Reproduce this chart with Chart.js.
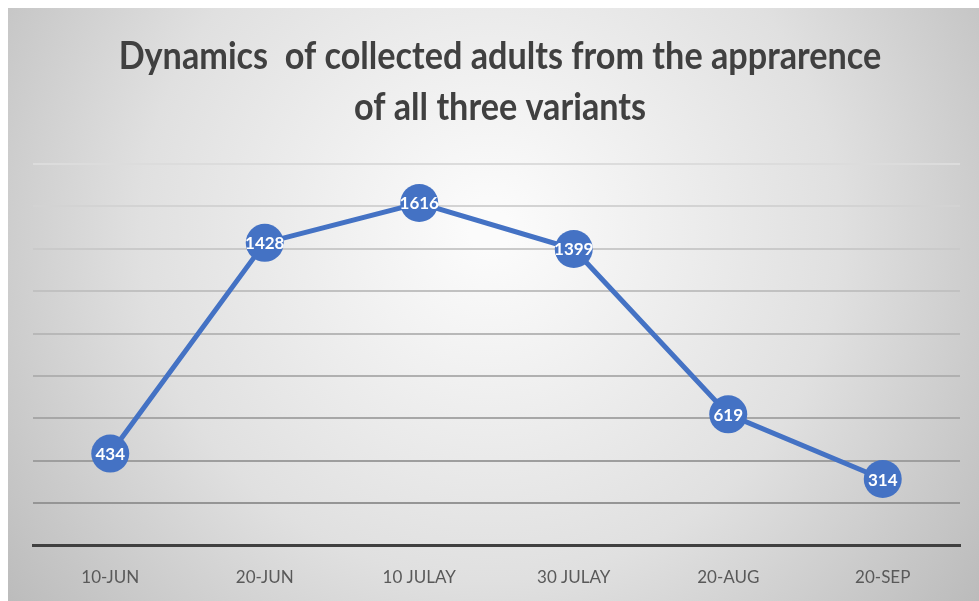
<!DOCTYPE html>
<html>
<head>
<style>
    body { margin: 0; background: white; }
    #wrap { position: relative; width: 979px; height: 601px; }
</style>
<script src="https://cdn.jsdelivr.net/npm/chart.js@4"></script>
</head>
<body>
<div id="wrap"><canvas id="chart"></canvas></div>
<script>
    var dates = ["10-JUN", "20-JUN", "10 JULAY", "30 JULAY", "20-AUG", "20-SEP"];
    var adults = [434, 1428, 1616, 1399, 619, 314];
    var titleLines = ["Dynamics  of collected adults from the apprarence", "of all three variants"];

    var blue = '#4472C4';

    // grey radial backdrop like the office chart area
    var backdrop = {
        id: 'backdrop',
        beforeDraw: function(chart) {
            var c = chart.ctx;
            c.save();
            c.fillStyle = '#ffffff';
            c.fillRect(0, 0, chart.width, chart.height);
            var g = c.createRadialGradient(490, 230, 20, 490, 230, 620);
            g.addColorStop(0, '#fbfbfb');
            g.addColorStop(0.55, '#e0e0e0');
            g.addColorStop(1, '#bababa');
            c.fillStyle = g;
            c.fillRect(8, 8, chart.width - 8, chart.height - 8);
            c.restore();
        }
    };

    // title drawn a bit condensed (calibri look)
    var condTitle = {
        id: 'condTitle',
        afterDraw: function(chart) {
            var c = chart.ctx;
            c.save();
            c.fillStyle = '#404040';
            c.font = 'bold 38px Lato';
            c.textAlign = 'center';
            c.textBaseline = 'middle';
            var ys = [57, 108];
            for (var i = 0; i < titleLines.length; i++) {
                c.save();
                c.translate(500, ys[i]);
                c.scale(0.9, 1);
                c.fillText(titleLines[i], 0, 0);
                c.restore();
            }
            c.restore();
        }
    };

    // white numbers inside the markers
    var pointLabels = {
        id: 'pointLabels',
        afterDatasetsDraw: function(chart) {
            var c = chart.ctx;
            var meta = chart.getDatasetMeta(0);
            c.save();
            c.fillStyle = '#ffffff';
            c.font = 'bold 17px Lato';
            c.textAlign = 'center';
            c.textBaseline = 'middle';
            meta.data.forEach(function(pt, i) {
                c.fillText(adults[i], pt.x, pt.y + 1);
            });
            c.restore();
        }
    };

    new Chart(document.getElementById('chart'), {
        type: 'line',
        data: {
            labels: dates,
            datasets: [{
                data: adults,
                borderColor: blue,
                borderWidth: 5,
                backgroundColor: blue,
                pointBackgroundColor: blue,
                pointBorderWidth: 0,
                pointRadius: 19,
                pointHoverRadius: 19,
                tension: 0
            }]
        },
        options: {
            responsive: true,
            maintainAspectRatio: false,
            animation: false,
            layout: { padding: { top: 164, left: 33, right: 6, bottom: -9 } },
            plugins: {
                legend: { display: false },
                tooltip: { enabled: false },
                title: { display: false }
            },
            scales: {
                x: {
                    offset: true,
                    grid: { display: true, color: 'rgba(0,0,0,0)', drawTicks: false },
                    border: { display: true, color: '#404040', width: 3 },
                    ticks: {
                        color: '#595959',
                        font: { family: 'Lato', size: 17 },
                        padding: 22,
                        maxRotation: 0
                    }
                },
                y: {
                    min: 0,
                    max: 1800,
                    grid: {
                        drawTicks: false,
                        lineWidth: 2,
                        color: function(ctx) {
                            var v = ctx.tick ? ctx.tick.value : 0;
                            if (v === 0) return 'rgba(0,0,0,0)';
                            var k = Math.round(140 + (v / 1800) * 80);
                            return 'rgb(' + k + ',' + k + ',' + k + ')';
                        }
                    },
                    border: { display: false },
                    ticks: { display: false, stepSize: 200 }
                }
            }
        },
        plugins: [backdrop, condTitle, pointLabels]
    });
</script>
</body>
</html>
